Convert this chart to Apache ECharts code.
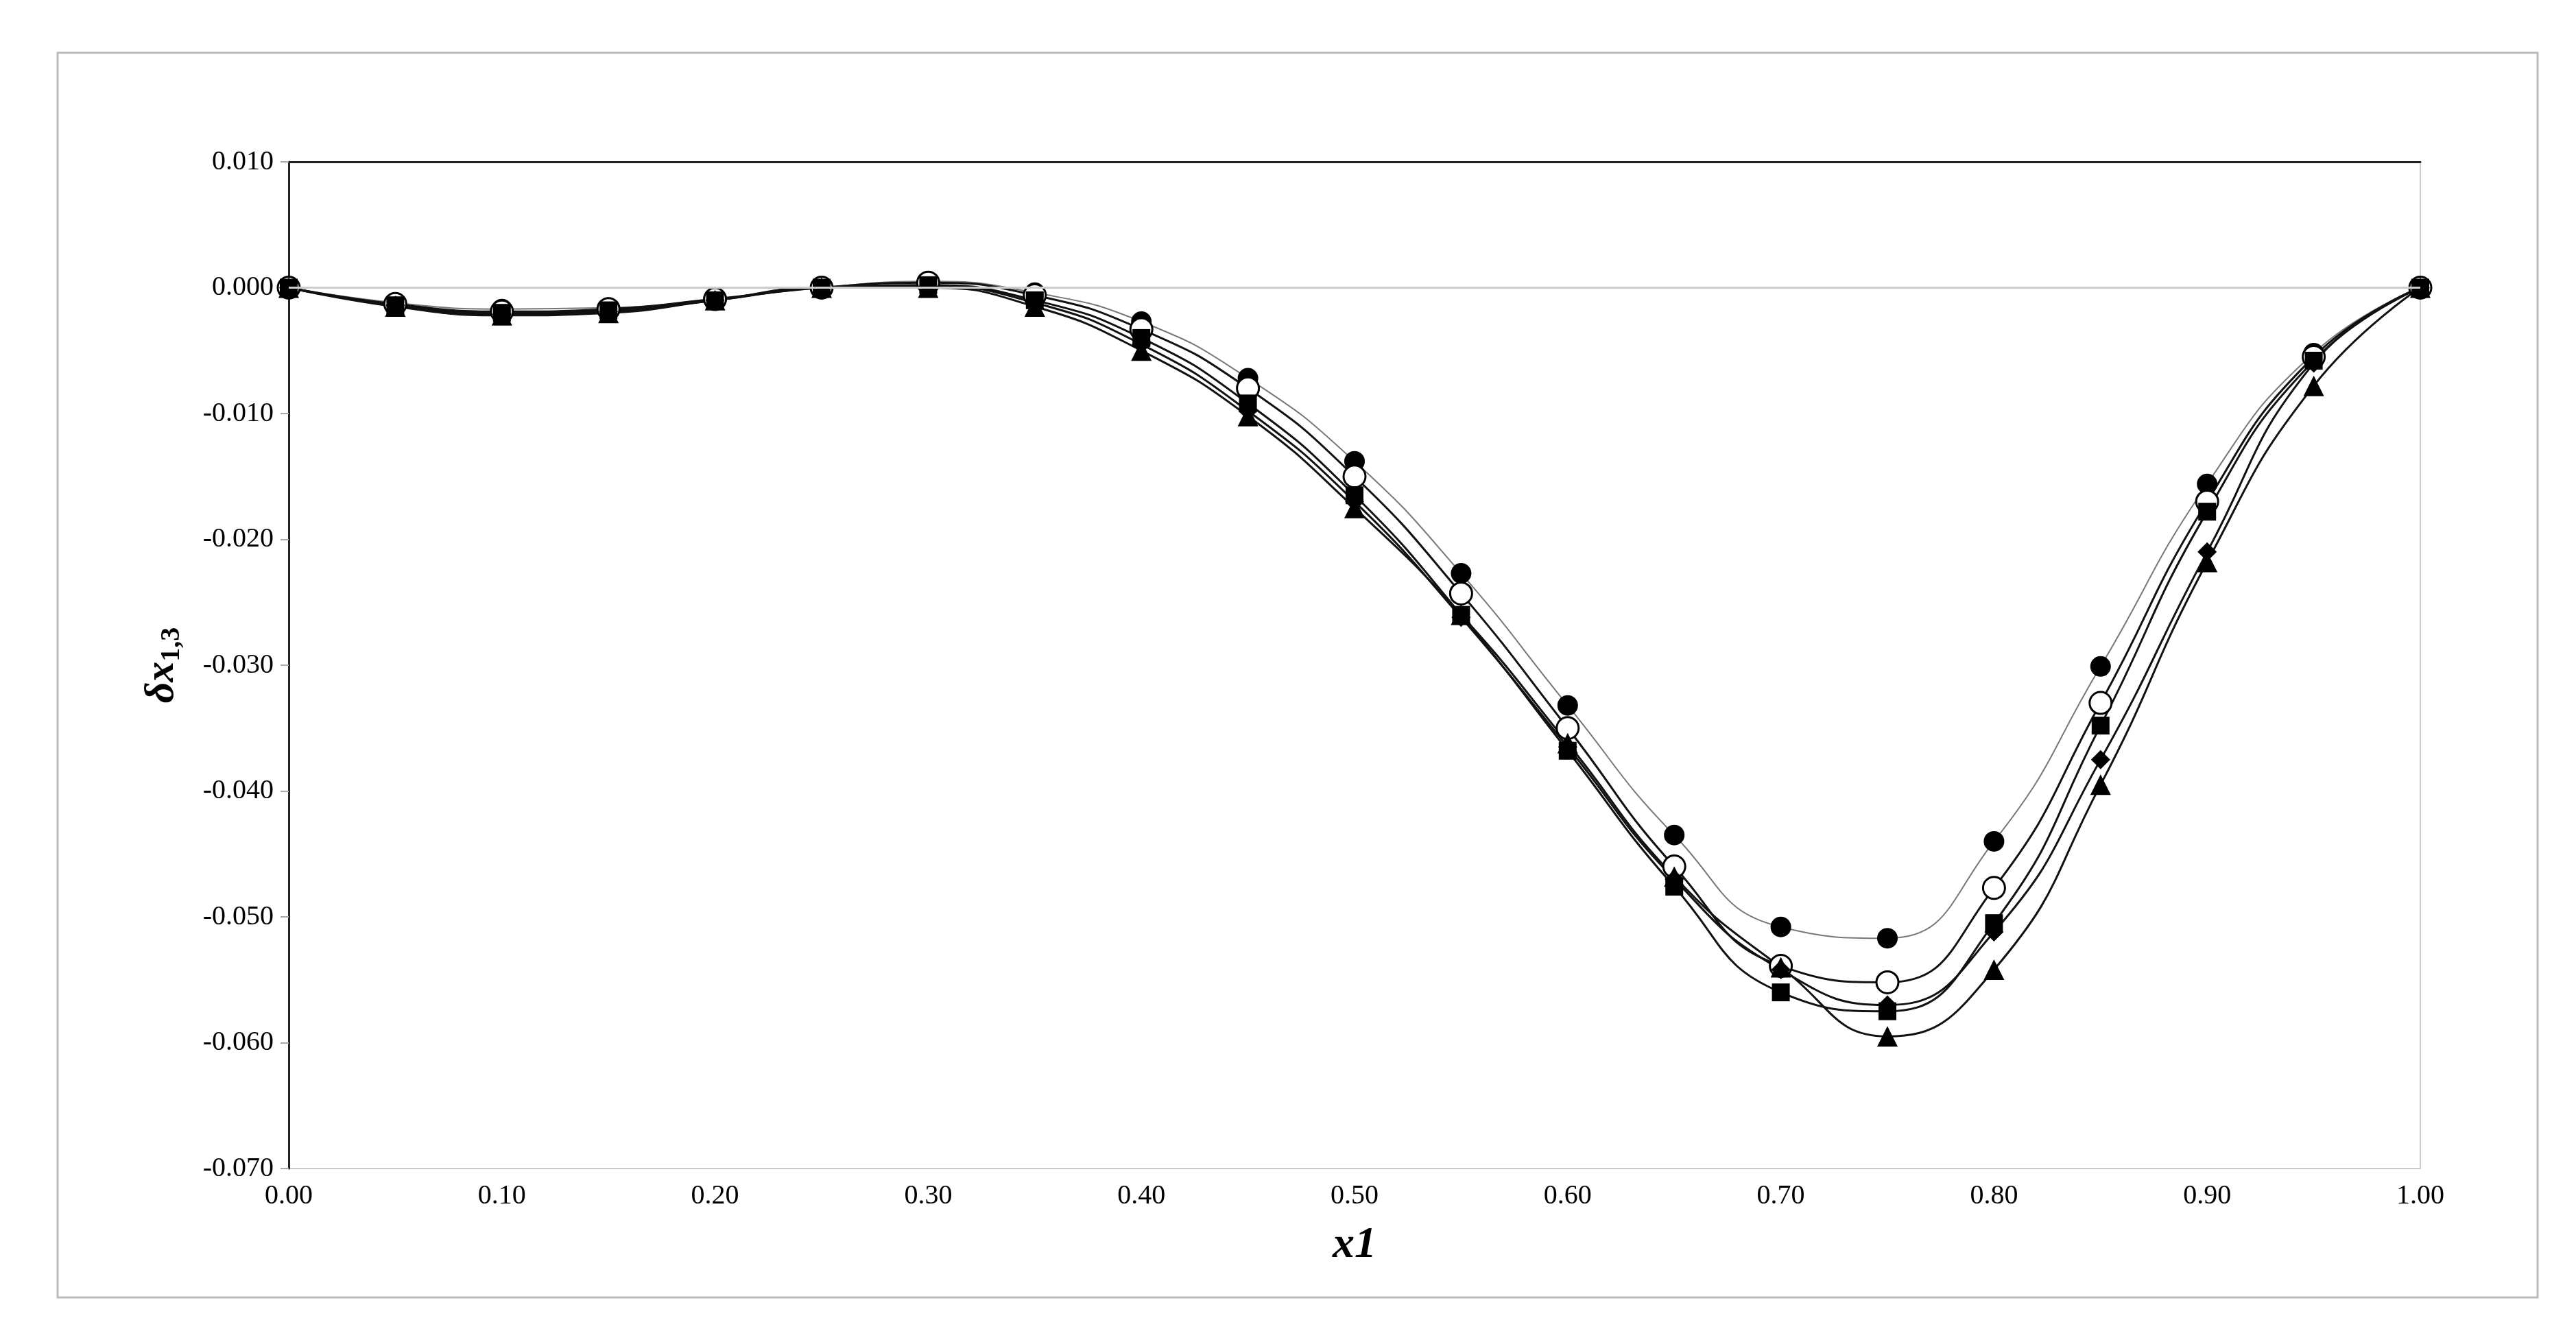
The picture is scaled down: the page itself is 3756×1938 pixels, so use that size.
<!DOCTYPE html>
<html><head><meta charset="utf-8">
<script src="https://cdn.jsdelivr.net/npm/echarts@6/dist/echarts.min.js"></script>
<style>html,body{margin:0;background:#fff}#c{width:3756px;height:1938px}</style>
</head><body><div id="c"></div>
<script>
var xs=[0,0.05,0.10,0.15,0.20,0.25,0.30,0.35,0.40,0.45,0.50,0.55,0.60,0.65,0.70,0.75,0.80,0.85,0.90,0.95,1.00];
var sFilledCircle=[0,-0.0012,-0.0017,-0.0016,-0.0009,0,0.0005,-0.0004,-0.0027,-0.0072,-0.0138,-0.0227,-0.0332,-0.0435,-0.0508,-0.0517,-0.0440,-0.0301,-0.0156,-0.0052,0];
var sOpenCircle=[0,-0.0013,-0.0019,-0.0017,-0.0009,0,0.0004,-0.0006,-0.0033,-0.0080,-0.0150,-0.0243,-0.0350,-0.0460,-0.0539,-0.0552,-0.0477,-0.0330,-0.0170,-0.0055,0];
var sSquare=[0,-0.0014,-0.0020,-0.0018,-0.0010,0,0.0002,-0.0010,-0.0040,-0.0092,-0.0165,-0.0260,-0.0368,-0.0476,-0.0560,-0.0575,-0.0505,-0.0348,-0.0178,-0.0058,0];
var sDiamond=[0,-0.0014,-0.0021,-0.0019,-0.0010,0,0.0001,-0.0012,-0.0045,-0.0098,-0.0170,-0.0262,-0.0365,-0.0470,-0.0542,-0.0570,-0.0512,-0.0375,-0.0210,-0.0060,0];
var sTriangle=[0,-0.0015,-0.0022,-0.0020,-0.0010,0,0,-0.0015,-0.0050,-0.0102,-0.0175,-0.0260,-0.0362,-0.0468,-0.0540,-0.0595,-0.0542,-0.0395,-0.0218,-0.0078,0];

function pts(v){return xs.map(function(x,i){return [x,v[i]];});}
function ser(name,v,symbol,size,fill,lw,lc){
  return {name:name,type:'line',smooth:0.5,data:pts(v),symbol:symbol,symbolSize:size,
    itemStyle:{color:fill,borderColor:'#000',borderWidth:fill=='#fff'?3:0},
    lineStyle:{color:lc,width:lw},z:3};
}
var font='"Liberation Serif", "DejaVu Serif", serif';
var chart=echarts.init(document.getElementById('c'));
chart.setOption({
  animation:false,
  backgroundColor:'#fff',
  textStyle:{fontFamily:font},
  graphic:[{type:'rect',shape:{x:84,y:77,width:3616,height:1815},style:{fill:'none',stroke:'#bbb',lineWidth:3}}],
  grid:{left:421,right:227,top:236,bottom:234,show:true,borderColor:'#ccc',borderWidth:2},
  xAxis:[{type:'value',min:0,max:1,interval:0.1,
    axisLine:{lineStyle:{color:'#222',width:3}},axisTick:{show:false},splitLine:{show:false},
    axisLabel:{color:'#000',fontSize:40,fontFamily:font,margin:20,formatter:function(v){return v.toFixed(2);}},
    name:'x1',nameLocation:'middle',nameGap:80,
    nameTextStyle:{fontSize:64,fontWeight:'bold',fontStyle:'italic',fontFamily:font,color:'#000',
      rich:{}},
  },{type:'value',position:'top',min:0,max:1,axisLine:{lineStyle:{color:'#222',width:3}},axisLabel:{show:false},axisTick:{show:false},splitLine:{show:false}}],
  yAxis:{type:'value',min:-0.07,max:0.01,interval:0.01,
    axisLine:{show:true,onZero:false,lineStyle:{color:'#222',width:3}},
    axisTick:{show:true,length:12,lineStyle:{color:'#aaa',width:2}},splitLine:{show:false},
    axisLabel:{color:'#000',fontSize:40,fontFamily:font,margin:22,formatter:function(v){return v.toFixed(3);}},
    name:'{a|δx}{b|1,3}',nameLocation:'middle',nameGap:150,nameRotate:90,
    nameTextStyle:{rich:{a:{fontSize:60,fontWeight:'bold',fontStyle:'italic',fontFamily:font,color:'#000'},
      b:{fontSize:40,fontWeight:'bold',fontFamily:font,color:'#000',verticalAlign:'bottom',padding:[30,0,0,0]}}}},
  series:[
    {type:'line',data:[],markLine:{silent:true,symbol:'none',label:{show:false},lineStyle:{color:'#ccc',width:3,type:'solid'},data:[{yAxis:0}]}},
    ser('a',sFilledCircle,'circle',30,'#000',2,'#777'),
    ser('b',sOpenCircle,'circle',32,'#fff',3,'#111'),
    ser('c',sSquare,'rect',26,'#000',3,'#111'),
    ser('d',sDiamond,'diamond',28,'#000',3,'#111'),
    ser('e',sTriangle,'triangle',30,'#000',3,'#111')
  ]
});
</script></body></html>
